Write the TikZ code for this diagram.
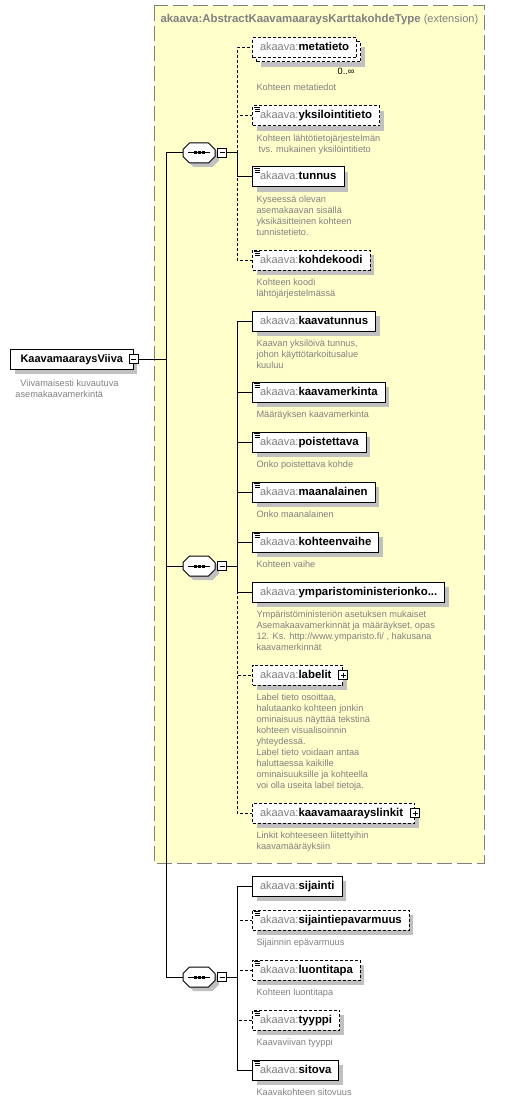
\documentclass[tikz,border=0pt]{standalone}
\usepackage{fontspec}
\setmainfont{Liberation Sans}
\usetikzlibrary{shadows}

\definecolor{extfill}{RGB}{255,255,204}
\definecolor{extline}{RGB}{128,128,128}
\definecolor{nsgray}{RGB}{128,128,128}
\definecolor{descgray}{RGB}{128,128,128}
\definecolor{shadowgray}{RGB}{192,192,192}

\newcommand{\ak}[1]{{\color{nsgray}akaava:}{\fontsize{11.4}{13}\selectfont\bfseries #1}}
\newcommand{\dtext}[1]{\begin{tabular}[t]{@{}l@{}}#1\end{tabular}}
\newcommand{\octagon}{(-16,-3.5) -- (-9.5,-10) -- (9.5,-10) -- (16,-3.5) -- (16,3.5) -- (9.5,10) -- (-9.5,10) -- (-16,3.5) -- cycle}

\tikzset{
  boxshadow/.style={drop shadow={shadow xshift=4pt,shadow yshift=-5pt,fill=shadowgray,opacity=1}},
  elembase/.style={draw,fill=white,anchor=west,minimum height=20pt,inner xsep=7.5pt,inner ysep=0pt,
    text height=8pt,text depth=2pt,font=\fontsize{11}{13}\selectfont},
  elem/.style={elembase,boxshadow},
  optelem/.style={elem,dash pattern=on 3pt off 2pt},
  expelem/.style={optelem,execute at end node={\hspace*{4pt}}},
  optline/.style={dash pattern=on 3pt off 2pt},
  desc/.style={anchor=base west,inner sep=0pt,text=descgray,font=\fontsize{9.2}{11}\selectfont},
  seqnode/.style={minimum width=32pt,minimum height=20pt,inner sep=0pt},
  signbox/.style={draw,fill=white,minimum size=9pt,inner sep=0pt},
  minusbox/.style={signbox,path picture={
    \draw ([xshift=2pt]path picture bounding box.west) -- ([xshift=-2pt]path picture bounding box.east);}},
  plusbox/.style={signbox,path picture={
    \draw ([xshift=2pt]path picture bounding box.west) -- ([xshift=-2pt]path picture bounding box.east);
    \draw ([yshift=-2pt]path picture bounding box.north) -- ([yshift=2pt]path picture bounding box.south);}}
}

\begin{document}
\begin{tikzpicture}[x=1pt,y=-1pt,line width=1pt]
  \useasboundingbox (0,0) rectangle (526,1102);

  % extension frame
  \draw[extline,fill=extfill,dash pattern=on 15pt off 5pt] (154,6) rectangle (484,863);
  \node[anchor=base west,inner sep=0pt,text=nsgray,font=\fontsize{11}{13}\selectfont] (ext-title)
    at (160,23) {{\fontsize{11.4}{13}\selectfont\bfseries akaava:AbstractKaavamaaraysKarttakohdeType} (extension)};

  % root element
  \node[elem,inner xsep=10pt] (root) at (10,359) {\textbf{KaavamaaraysViiva}};
  \node[minusbox] (root-minus) at (root.east) {};
  \node[desc] (root-desc) at (15,386) {\dtext{\hspace*{5pt}Viivamaisesti kuvautuva\\asemakaavamerkintä}};

  % sequences
  \foreach \s/\yy in {s1/153,s2/566,s3/977} {
    \fill[shadowgray,shift={(203,\yy+4)}] \octagon;
    \filldraw[fill=white,shift={(199,\yy)}] \octagon;
    \node[seqnode] (\s) at (199,\yy) {};
    \draw ([xshift=-11pt]\s.center) -- ([xshift=11pt]\s.center);
    \foreach \dx in {-4,0,4}
      \fill ([xshift=\dx pt]\s.center) ++(-1.5,-1.5) rectangle ++(3,3);
    \node[minusbox] (\s-minus) at (222,\yy) {};
    \coordinate (\s-j) at (237,\yy);
    \draw (\s-minus.east) -- (\s-j);
  }
  \coordinate (trunk) at (166,359);
  \draw (root-minus.east) -- (trunk);
  \draw (s1.west) -- (s1.west -| trunk) -- (s3.west -| trunk) -- (s3.west);
  \draw (s2.west -| trunk) -- (s2.west);

  % metatieto (0..unbounded)
  \node[optelem] (metatieto-back) at (256,52) {\phantom{\ak{metatieto}}};
  \node[elembase,dash pattern=on 3pt off 2pt] (metatieto) at (252,48) {\ak{metatieto}};
  \node[anchor=base east,inner sep=0pt,font=\fontsize{9.2}{11}\selectfont] (metatieto-occ) at (355,75) {0..∞};
  \node[desc] (metatieto-desc) at (256,91) {Kohteen metatiedot};

  % child elements
  \foreach \nm/\yy/\st/\dsc in {
    yksilointitieto/116/optelem/{Kohteen lähtötietojärjestelmän\\\hspace*{2pt}tvs. mukainen yksilöintitieto},
    tunnus/177/elem/{Kyseessä olevan\\asemakaavan sisällä\\yksikäsitteinen kohteen\\tunnistetieto.},
    kohdekoodi/260/optelem/{Kohteen koodi\\lähtöjärjestelmässä},
    kaavatunnus/321/elem/{Kaavan yksilöivä tunnus,\\johon käyttötarkoitusalue\\kuuluu},
    kaavamerkinta/392/elem/{Määräyksen kaavamerkinta},
    poistettava/442/elem/{Onko poistettava kohde},
    maanalainen/492/elem/{Onko maanalainen},
    kohteenvaihe/542/elem/{Kohteen vaihe},
    labelit/675/expelem/{Label tieto osoittaa,\\halutaanko kohteen jonkin\\ominaisuus näyttää tekstinä\\kohteen visualisoinnin\\yhteydessä.\\Label tieto voidaan antaa\\haluttaessa kaikille\\ominaisuuksille ja kohteella\\voi olla useita label tietoja.},
    kaavamaarayslinkit/813/expelem/{Linkit kohteeseen liitettyihin\\kaavamääräyksiin},
    sijaintiepavarmuus/920/optelem/{Sijainnin epävarmuus},
    luontitapa/970/optelem/{Kohteen luontitapa},
    tyyppi/1020/optelem/{Kaavaviivan tyyppi},
    sitova/1070/elem/{Kaavakohteen sitovuus}} {
    \node[\st] (\nm) at (252,\yy) {\ak{\nm}};
    \node[desc] (\nm-desc) at (256,\yy+25.5) {\dtext{\dsc}};
  }
  \node[elem] (ymparisto) at (252,592) {\ak{ymparistoministerionko...}};
  \node[desc] (ymparisto-desc) at (256,617.5) {\dtext{Ympäristöministeriön asetuksen mukaiset\\Asemakaavamerkinnät ja määräykset, opas\\12. Ks. http://www.ymparisto.fi/ , hakusana\\kaavamerkinnät}};
  \node[elem] (sijainti) at (252,886) {\ak{sijainti}};

  % icons and expand boxes
  \foreach \nm in {yksilointitieto,tunnus,kohdekoodi,kaavamerkinta,poistettava,maanalainen,
      kohteenvaihe,sijaintiepavarmuus,luontitapa,tyyppi,sitova} {
    \draw[line width=0.8pt] ([shift={(2,2)}]\nm.north west) -- ++(6,0);
    \draw[line width=0.8pt] ([shift={(3,4)}]\nm.north west) -- ++(5,0);
    \draw[line width=0.8pt] ([shift={(3,6)}]\nm.north west) -- ++(5,0);
  }
  \foreach \nm in {labelit,kaavamaarayslinkit}
    \node[plusbox] (\nm-plus) at (\nm.east) {};

  % connectors
  \foreach \nm in {metatieto,yksilointitieto,kohdekoodi}
    \draw[optline] (s1-j) |- (\nm.west);
  \draw (s1-j) |- (tunnus.west);
  \foreach \nm in {labelit,kaavamaarayslinkit}
    \draw[optline] (s2-j) |- (\nm.west);
  \foreach \nm in {kaavatunnus,kaavamerkinta,poistettava,maanalainen,kohteenvaihe,ymparisto}
    \draw (s2-j) |- (\nm.west);
  \foreach \nm in {sijaintiepavarmuus,luontitapa,tyyppi}
    \draw[optline] (s3-j) |- (\nm.west);
  \foreach \nm in {sijainti,sitova}
    \draw (s3-j) |- (\nm.west);
\end{tikzpicture}
\end{document}
